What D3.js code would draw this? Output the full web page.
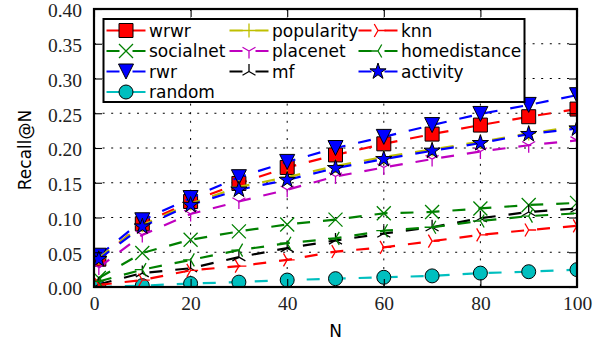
<!DOCTYPE html>
<html>
<head>
<meta charset="utf-8">
<script src="https://cdn.jsdelivr.net/npm/d3@7"></script>
<style>
  body { margin: 0; background: #fff; }
  svg { display: block; }
</style>
</head>
<body>
<div id="chart"></div>
<script>
// recall@N for each method
const N_values = [1, 10, 20, 30, 40, 50, 60, 70, 80, 90, 100];
const wrwr = [0.040, 0.091, 0.123, 0.149, 0.172, 0.190, 0.206, 0.220, 0.233, 0.245, 0.256];
const socialnet = [0.013, 0.049, 0.068, 0.080, 0.090, 0.097, 0.106, 0.108, 0.113, 0.118, 0.121];
const rwr = [0.045, 0.096, 0.128, 0.158, 0.180, 0.200, 0.216, 0.233, 0.249, 0.262, 0.276];
const random = [0.000, 0.002, 0.005, 0.007, 0.010, 0.012, 0.014, 0.016, 0.020, 0.022, 0.025];
const popularity = [0.042, 0.089, 0.120, 0.144, 0.158, 0.174, 0.187, 0.198, 0.209, 0.221, 0.231];
const placenet = [0.028, 0.075, 0.105, 0.123, 0.140, 0.159, 0.172, 0.184, 0.195, 0.204, 0.211];
const mf = [0.004, 0.020, 0.027, 0.043, 0.056, 0.067, 0.077, 0.086, 0.099, 0.108, 0.113];
const knn = [0.003, 0.010, 0.024, 0.030, 0.039, 0.051, 0.057, 0.066, 0.075, 0.082, 0.088];
const homedistance = [0.008, 0.025, 0.039, 0.053, 0.063, 0.070, 0.081, 0.086, 0.095, 0.102, 0.106];
const activity = [0.040, 0.087, 0.118, 0.140, 0.154, 0.171, 0.184, 0.196, 0.207, 0.220, 0.228];

const x_ticks = [0, 20, 40, 60, 80, 100];
const y_ticks = [0, 0.05, 0.10, 0.15, 0.20, 0.25, 0.30, 0.35, 0.40];

const series = [
    { name: "wrwr", values: wrwr, color: "#ff0000", marker: "square" },
    { name: "socialnet", values: socialnet, color: "#008000", marker: "x" },
    { name: "rwr", values: rwr, color: "#0000ff", marker: "tri_v" },
    { name: "random", values: random, color: "#00bfbf", marker: "circle" },
    { name: "popularity", values: popularity, color: "#bfbf00", marker: "plus" },
    { name: "placenet", values: placenet, color: "#bf00bf", marker: "y_down" },
    { name: "mf", values: mf, color: "#000000", marker: "y_up" },
    { name: "knn", values: knn, color: "#ff0000", marker: "y_right" },
    { name: "homedistance", values: homedistance, color: "#008000", marker: "y_left" },
    { name: "activity", values: activity, color: "#0000ff", marker: "star" }
];

const width = 608, height = 347;
const margin = { top: 9, right: 31, bottom: 60, left: 94 };
const plot_w = width - margin.left - margin.right;
const plot_h = height - margin.top - margin.bottom;

let svg = d3.select("#chart")
    .append("svg")
    .attr("width", width)
    .attr("height", height);

let x = d3.scaleLinear().domain([0, 100]).range([0, plot_w]);
let y = d3.scaleLinear().domain([0, 0.4]).range([plot_h, 0]);

svg.append("defs").append("clipPath")
    .attr("id", "plot-clip")
    .append("rect")
    .attr("width", plot_w)
    .attr("height", plot_h);

let g = svg.append("g")
    .attr("transform", `translate(${margin.left}, ${margin.top})`);

// dotted grid
g.append("g").selectAll("line").data(x_ticks.slice(1, -1)).enter()
    .append("line")
    .attr("x1", d => x(d)).attr("x2", d => x(d))
    .attr("y1", 0).attr("y2", plot_h)
    .attr("stroke", "#000").attr("stroke-width", 1)
    .attr("stroke-dasharray", "2,6.6");
g.append("g").selectAll("line").data(y_ticks.slice(1, -1)).enter()
    .append("line")
    .attr("x1", 0).attr("x2", plot_w)
    .attr("y1", d => y(d)).attr("y2", d => y(d))
    .attr("stroke", "#000").attr("stroke-width", 1)
    .attr("stroke-dasharray", "2,6.6");

// marker shapes, r = half size
let markerPath = (type, r) => {
    let p = d3.path();
    if (type === "square") {
        p.rect(-r, -r, 2 * r, 2 * r);
    } else if (type === "circle") {
        p.arc(0, 0, r, 0, 2 * Math.PI);
    } else if (type === "tri_v") {
        p.moveTo(0, r); p.lineTo(-r, -r); p.lineTo(r, -r); p.closePath();
    } else if (type === "star") {
        for (let i = 0; i < 10; i++) {
            let rr = i % 2 === 0 ? r : r * 0.381966;
            let a = -Math.PI / 2 + i * Math.PI / 5;
            if (i === 0) p.moveTo(rr * Math.cos(a), rr * Math.sin(a));
            else p.lineTo(rr * Math.cos(a), rr * Math.sin(a));
        }
        p.closePath();
    } else if (type === "plus") {
        p.moveTo(-r, 0); p.lineTo(r, 0); p.moveTo(0, -r); p.lineTo(0, r);
    } else if (type === "x") {
        p.moveTo(-r, -r); p.lineTo(r, r); p.moveTo(-r, r); p.lineTo(r, -r);
    } else {
        // three-armed markers
        let arms = {
            y_down: [[0, 1], [-0.866, -0.5], [0.866, -0.5]],
            y_up: [[0, -1], [-0.866, 0.5], [0.866, 0.5]],
            y_left: [[-1, 0], [0.5, -0.866], [0.5, 0.866]],
            y_right: [[1, 0], [-0.5, -0.866], [-0.5, 0.866]]
        }[type];
        arms.forEach(a => { p.moveTo(0, 0); p.lineTo(a[0] * r, a[1] * r); });
    }
    return p.toString();
};

let markerSize = { square: 7, circle: 7, tri_v: 7.5, star: 8.5, plus: 7, x: 7,
    y_down: 7.5, y_up: 7.5, y_left: 7.5, y_right: 7.5 };
let filled = m => ["square", "circle", "tri_v", "star"].includes(m);

let drawMarker = (sel, s) => {
    sel.attr("d", markerPath(s.marker, markerSize[s.marker]))
        .attr("fill", filled(s.marker) ? s.color : "none")
        .attr("stroke", filled(s.marker) ? "#000" : s.color)
        .attr("stroke-width", filled(s.marker) ? 1 : 1.3)
        .attr("stroke-linejoin", "miter");
};

let line = d3.line()
    .x(d => x(d.n))
    .y(d => y(d.v));

let plot = g.append("g").attr("clip-path", "url(#plot-clip)");

series.forEach(s => {
    let pts = N_values.map((n, i) => ({ n: n, v: s.values[i] }));
    let sg = plot.append("g");
    sg.append("path")
        .datum(pts)
        .attr("d", line)
        .attr("fill", "none")
        .attr("stroke", s.color)
        .attr("stroke-width", 2.2)
        .attr("stroke-dasharray", "13,13");
    sg.selectAll("path.mk").data(pts).enter()
        .append("path")
        .attr("class", "mk")
        .attr("transform", d => `translate(${x(d.n)}, ${y(d.v)})`)
        .each(function () { drawMarker(d3.select(this), s); });
});

// axes with inward ticks on all sides
let styleAxis = sel => {
    sel.select(".domain").remove();
    sel.selectAll(".tick line").attr("stroke", "#000").attr("stroke-width", 1.1);
    sel.selectAll("text")
        .style("font-family", "'Liberation Serif', 'DejaVu Serif', serif")
        .style("font-size", "19.5px")
        .attr("fill", "#222");
};

g.append("g")
    .attr("transform", `translate(0, ${plot_h})`)
    .call(d3.axisBottom(x).tickValues(x_ticks).tickSize(-8).tickPadding(9).tickFormat(d3.format("d")))
    .call(styleAxis);
g.append("g")
    .call(d3.axisLeft(y).tickValues(y_ticks).tickSize(-8).tickPadding(12).tickFormat(d3.format(".2f")))
    .call(styleAxis)
    .selectAll("text").attr("dy", "0.4em");
g.append("g")
    .call(d3.axisTop(x).tickValues(x_ticks).tickSize(-8).tickFormat(""))
    .call(styleAxis);
g.append("g")
    .attr("transform", `translate(${plot_w}, 0)`)
    .call(d3.axisRight(y).tickValues(y_ticks).tickSize(-8).tickFormat(""))
    .call(styleAxis);

g.append("rect")
    .attr("width", plot_w)
    .attr("height", plot_h)
    .attr("fill", "none")
    .attr("stroke", "#000")
    .attr("stroke-width", 2.2);

// legend, filled column by column
let legend = svg.append("g");
legend.append("rect")
    .attr("x", 103.5).attr("y", 19)
    .attr("width", 421).attr("height", 83)
    .attr("fill", "#fff")
    .attr("stroke", "#000")
    .attr("stroke-width", 2);

let col_x = [106.5, 229.5, 358.5];
let row_y = [30.5, 51, 71.5, 92];
let per_col = [4, 3, 3];
let idx = 0;
per_col.forEach((count, c) => {
    for (let r = 0; r < count; r++) {
        let s = series[idx++];
        let lg = legend.append("g")
            .attr("transform", `translate(${col_x[c]}, ${row_y[r]})`);
        lg.append("line")
            .attr("x1", 0).attr("x2", 39)
            .attr("stroke", s.color)
            .attr("stroke-width", 2.2)
            .attr("stroke-dasharray", "13,13");
        lg.append("path")
            .attr("transform", "translate(19.5, 0)")
            .call(sel => drawMarker(sel, s));
        lg.append("text")
            .attr("x", 42.5)
            .attr("dy", "0.36em")
            .style("font-family", "'DejaVu Sans', sans-serif")
            .style("font-size", "17px")
            .text(s.name);
    }
});

// axis titles
svg.append("text")
    .attr("x", margin.left + plot_w / 2)
    .attr("y", 337)
    .style("text-anchor", "middle")
    .style("font-family", "'DejaVu Sans', sans-serif")
    .style("font-size", "17px")
    .text("N");

svg.append("text")
    .attr("transform", `translate(31, ${margin.top + plot_h / 2 + 2}) rotate(-90)`)
    .style("text-anchor", "middle")
    .style("font-family", "'DejaVu Sans', sans-serif")
    .style("font-size", "17px")
    .text("Recall@N");
</script>
</body>
</html>
